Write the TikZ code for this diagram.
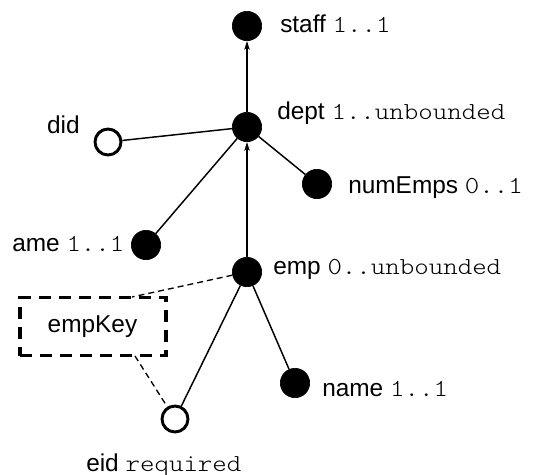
\documentclass[tikz,border=0pt]{standalone}
\usepackage{fontspec}
\setmainfont{Liberation Sans}
\setmonofont[FakeStretch=1.13]{lmmonolt10-regular.otf}
\usetikzlibrary{arrows.meta}
\begin{document}
\begin{tikzpicture}[x=0.75pt,y=-0.75pt,
  full/.style={circle,fill=black,draw=black,line width=0.5pt,minimum size=22pt,inner sep=0pt},
  open/.style={circle,fill=white,draw=black,line width=2.2pt,minimum size=19.5pt,inner sep=0pt},
  lbl/.style={inner sep=0pt,font=\fontsize{18.3}{21}\selectfont},
  edge/.style={line width=1.1pt},
  arr/.style={line width=1.1pt,-{Stealth[length=6.5pt,width=4pt,inset=1.5pt]}},
  keyline/.style={line width=1pt,dash pattern=on 4.5pt off 3pt},
  keybox/.style={draw,line width=2.3pt,dash pattern=on 9pt off 6pt,inner sep=0pt}]
\useasboundingbox (0,0) rectangle (544,475);
\node[full] (staff) at (247,26) {};
\node[full] (dept) at (247,127) {};
\node[open] (did) at (108,142) {};
\node[full] (numEmps) at (317,184) {};
\node[full] (ame) at (146,245) {};
\node[full] (emp) at (247,272) {};
\node[full] (name) at (295,383) {};
\node[open] (eid) at (175,419) {};
\node[keybox,minimum width=109.5pt,minimum height=44pt] (box) at (93,326.5) {};
\node[lbl] (keytxt) at (92.5,327) {empKey};
\coordinate (kt) at (132,297);
\coordinate (kb) at (135,356);

\node[lbl,anchor=base west] (lstaff) at (280,32) {staff \texttt{1..1}};
\node[lbl,anchor=base west] (ldept) at (277,119) {dept \texttt{1..unbounded}};
\node[lbl,anchor=base east] (ldid) at (80,133) {did};
\node[lbl,anchor=base west] (lnum) at (348,193) {numEmps \texttt{0..1}};
\node[lbl,anchor=base west] (lame) at (12,251) {ame \texttt{1..1}};
\node[lbl,anchor=base west] (lemp) at (273,274) {emp \texttt{0..unbounded}};
\node[lbl,anchor=base west] (lname) at (322,396) {name \texttt{1..1}};
\node[lbl,anchor=base west] (leid) at (86,471) {eid \texttt{required}};

\draw[arr] (dept) -- (staff);
\draw[arr] (emp) -- (dept);
\draw[edge] (dept) -- (did);
\draw[edge] (dept) -- (numEmps);
\draw[edge] (dept) -- (ame);
\draw[edge] (emp) -- (name);
\draw[edge] (emp) -- (eid);
\draw[keyline] (emp) -- (kt);
\draw[keyline] (kb) -- (eid);
\end{tikzpicture}
\end{document}
